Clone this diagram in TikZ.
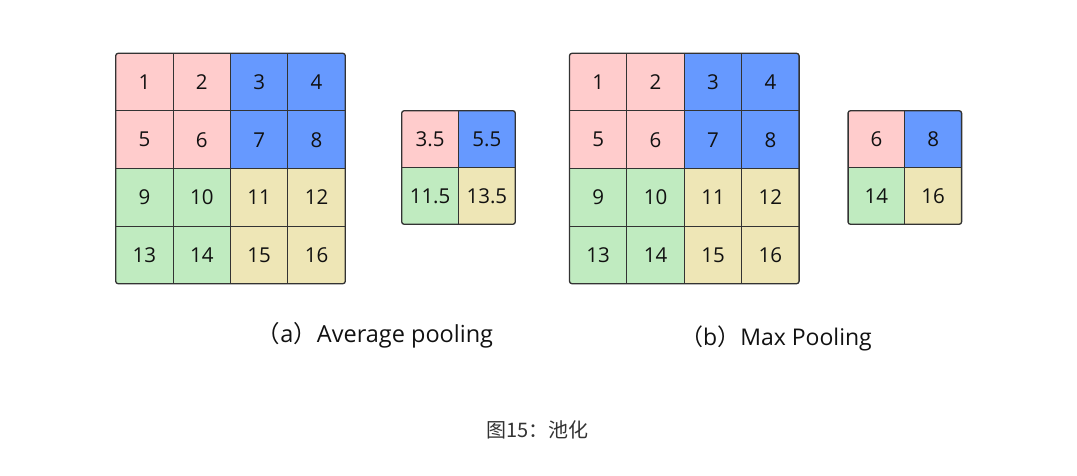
\documentclass[tikz,border=0pt]{standalone}
\usepackage{fontspec}
\setmainfont{Open Sans}
\newfontfamily\cjk{Noto Sans CJK SC}
\definecolor{cpink}{HTML}{FFCCCC}
\definecolor{cblue}{HTML}{6699FF}
\definecolor{cgreen}{HTML}{C0EBC0}
\definecolor{cyellow}{HTML}{EEE6B6}
\definecolor{cline}{HTML}{333333}
\definecolor{ctext}{HTML}{111111}
\begin{document}
\begin{tikzpicture}[x=1pt,y=-1pt,
  cell/.style={draw=cline, line width=1.1pt, inner sep=0pt, text=ctext,
    font=\fontsize{20.5}{20.5}\selectfont},
  bigcell/.style={cell, minimum width=57.4pt, minimum height=57.6pt},
  smallcell/.style={cell, minimum width=56.8pt, minimum height=56.8pt},
  border/.style={draw=cline, line width=1.3pt, rounded corners=2.5pt},
  caption/.style={text=ctext, inner sep=0pt, anchor=base}]
\useasboundingbox (0,0) rectangle (1077,475);
% big grids
\foreach \gx/\g in {115.7/A,569.5/B} {
  \begin{scope}
    \clip[rounded corners=2.5pt] (\gx,53.3) rectangle ++(229.6,230.4);
    \foreach \r in {0,...,3} {
      \foreach \c in {0,...,3} {
        \pgfmathtruncatemacro\v{4*\r+\c+1}
        \ifnum\r<2
          \ifnum\c<2 \def\col{cpink}\else\def\col{cblue}\fi
        \else
          \ifnum\c<2 \def\col{cgreen}\else\def\col{cyellow}\fi
        \fi
        \node[bigcell, fill=\col] (\g-\r-\c) at (\gx+28.7+57.4*\c, 53.3+28.8+57.6*\r) {\v};
      }
    }
  \end{scope}
  \draw[border] (\gx,53.3) rectangle ++(229.6,230.4);
}
% small grids
\foreach \sx/\s/\va/\vb/\vc/\vd in {401.7/SA/3.5/5.5/11.5/13.5, 848/SB/6/8/14/16} {
  \begin{scope}
    \clip[rounded corners=2.5pt] (\sx,110.7) rectangle ++(113.6,113.6);
    \node[smallcell, fill=cpink]   (\s-0-0) at (\sx+28.4, 139.1) {\va};
    \node[smallcell, fill=cblue]   (\s-0-1) at (\sx+85.2, 139.1) {\vb};
    \node[smallcell, fill=cgreen]  (\s-1-0) at (\sx+28.4, 195.9) {\vc};
    \node[smallcell, fill=cyellow] (\s-1-1) at (\sx+85.2, 195.9) {\vd};
  \end{scope}
  \draw[border] (\sx,110.7) rectangle ++(113.6,113.6);
}
% captions
\node[caption, font=\fontsize{23.5}{23.5}\selectfont] (capA) at (375,342)
  {{\cjk（}a{\cjk）}Average pooling};
\node[caption, font=\fontsize{23}{23}\selectfont] (capB) at (776,345)
  {{\cjk（}b{\cjk）}Max Pooling};
\node[caption, text=cline, font=\fontsize{20}{20}\selectfont\cjk] (fig) at (537.5,437)
  {图15：池化};
\end{tikzpicture}
\end{document}
